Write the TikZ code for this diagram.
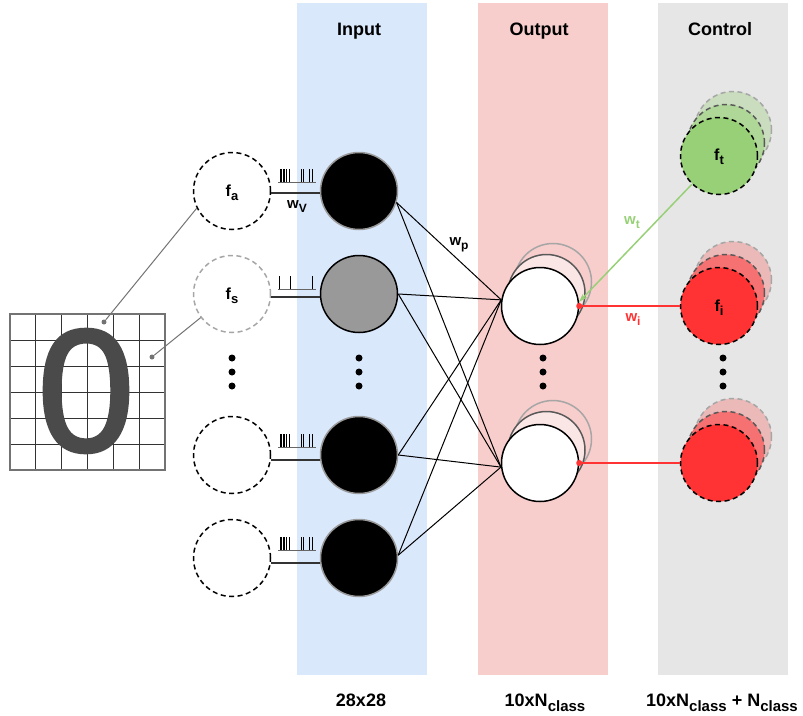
\documentclass[tikz,border=0pt]{standalone}
\usepackage{fontspec}
\setmainfont{Liberation Sans}
\newfontfamily\digitfont[FakeBold=2]{Liberation Sans}
\usetikzlibrary{arrows.meta}

\definecolor{inputbg}{HTML}{DAE8FC}
\definecolor{outputbg}{HTML}{F8CECC}
\definecolor{controlbg}{HTML}{E6E6E6}
\definecolor{leafgreen}{HTML}{97D077}
\definecolor{signalred}{HTML}{FF3333}
\definecolor{digitgray}{HTML}{4A4A4A}

% lowered subscript in the running sans font
\newcommand\lowsub[2][13]{\raisebox{-0.28em}{\fontsize{#1}{#1}\selectfont #2}}
% spike raster: start x, baseline y, spike offsets
\newcommand\spiketrain[3]{%
  \draw[black!60, line width=1pt] (#1,#2) -- ({#1+38},#2);
  \foreach \s in {#3} \draw[spike] ({#1+\s},#2) -- ({#1+\s},{#2-13});
}

\tikzset{
  title/.style={font=\bfseries\fontsize{18}{20}\selectfont, inner sep=0, anchor=base},
  flabel/.style={font=\bfseries\fontsize{16}{18}\selectfont, inner sep=0, anchor=base},
  wlabel/.style={font=\bfseries\fontsize{15}{17}\selectfont, inner sep=0, anchor=base},
  disc/.style={circle, minimum size=77pt, inner sep=0, line width=1.5pt},
  dashdisc/.style={disc, dash pattern=on 5pt off 3.5pt},
  syn/.style={draw=black!80, line width=1.5pt},
  proj/.style={draw=black, line width=1pt},
  guide/.style={draw=black!55, line width=1pt},
  spike/.style={draw=black, line width=0.9pt},
  ellip/.style={circle, fill=black, inner sep=0, minimum size=7pt},
  pin/.style={circle, fill=black!55, inner sep=0, minimum size=5pt},
  gridline/.style={draw=black!80, line width=1pt},
  gridframe/.style={draw=black!55, line width=1.5pt},
}

\begin{document}
\begin{tikzpicture}[x=1pt,y=-1pt]
\useasboundingbox (0,0) rectangle (803,715);

% layer bands
\fill[inputbg] (297,3) rectangle (427,675);
\fill[outputbg] (478,3) rectangle (608,675);
\fill[controlbg] (658,3) rectangle (788,675);

\node[title] (tin) at (359,35) {Input};
\node[title] (tout) at (539,35) {Output};
\node[title] (tctl) at (720,35) {Control};

\node[title] (nin) at (361,706.5) {28x28};
\node[title] (nout) at (545,706.5) {10xN\lowsub[15]{class}};
\node[title, anchor=base west] (nctl) at (646,706.5) {10xN\lowsub[15]{class} + N\lowsub[15]{class}};

% pixel grid with the digit
\foreach \i in {1,...,5} {
  \draw[gridline] ({10+\i*25.833},314) -- ({10+\i*25.833},470);
  \draw[gridline] (10,{314+\i*26}) -- (165,{314+\i*26});
}
\draw[gridframe] (10,314) rectangle (165,470);
\node[text=digitgray, font=\digitfont\fontsize{174}{174}\selectfont, inner sep=0] (digit) at (86,391) {0};
\node[pin] (pa) at (104,322) {};
\node[pin] (pb) at (152,357) {};

% feature detectors
\node[dashdisc, draw=black] (fa) at (232,191) {};
\node[dashdisc, draw=black!35] (fs) at (232,294) {};
\node[dashdisc, draw=black] (f3) at (232,455) {};
\node[dashdisc, draw=black] (f4) at (232,558) {};
\node[flabel] (fal) at (232,196) {f\lowsub{a}};
\node[flabel] (fsl) at (232,299) {f\lowsub{s}};

\draw[guide] (pa) -- (fa.206);
\draw[guide] (pb) -- (fs.217);

% input neurons
\node[disc, fill=black, draw=black!40] (i1) at (359,191) {};
\node[disc, fill=black!40, draw=black] (i2) at (359,294) {};
\node[disc, fill=black, draw=black!40] (i3) at (359,455) {};
\node[disc, fill=black, draw=black!40] (i4) at (359,558) {};

\draw[syn] ([yshift=-2pt]fa.east) -- ([yshift=-2pt]i1.west);
\draw[syn] ([yshift=-3pt]fs.east) -- ([yshift=-3pt]i2.west);
\draw[syn] ([yshift=-5pt]f3.east) -- ([yshift=-5pt]i3.west);
\draw[syn] ([yshift=-5pt]f4.east) -- ([yshift=-5pt]i4.west);

\spiketrain{278}{182}{2,3.5,5,6.5,8.5,11.5,23,25.5,31,34}
\spiketrain{278}{289}{1.5,12,34.5}
\spiketrain{278}{447}{2,3.5,5,6.5,8.5,11.5,23,25.5,31,34}
\spiketrain{278}{550}{2,3.5,5,6.5,8.5,11.5,23,25.5,31,34}

\node[wlabel] (wv) at (297,208) {w\lowsub[12]{V}};

% ellipses
\foreach \x/\n in {232/a,359/b,543/c,723/d} {
  \node[ellip] (dot\n1) at (\x,358) {};
  \node[ellip] (dot\n2) at (\x,372) {};
  \node[ellip] (dot\n3) at (\x,386) {};
}

% output neurons (stacked copies behind)
\node[disc, draw=black!35] (o1c) at (553,282) {};
\node[disc, fill=white!50!outputbg, draw=black!65] (o1b) at (546.5,293) {};
\node[disc, fill=white, draw=black] (o1) at (540,306) {};
\node[disc, draw=black!35] (o2c) at (553,439) {};
\node[disc, fill=white!50!outputbg, draw=black!65] (o2b) at (546.5,450) {};
\node[disc, fill=white, draw=black] (o2) at (540,463) {};

% all-to-all projections
\foreach \src in {i1.343,i2.east,i3.east,i4.4} {
  \draw[proj] (\src) -- (o1.171);
  \draw[proj] (\src) -- (o2.186);
}
\node[wlabel] (wp) at (459,245) {w\lowsub[12]{p}};

% control neurons (stacked copies behind)
\node[dashdisc, fill=leafgreen!35!controlbg, draw=black!35] (c1c) at (733,130) {};
\node[dashdisc, fill=leafgreen!70!controlbg, draw=black!65] (c1b) at (726,143) {};
\node[dashdisc, fill=leafgreen, draw=black] (c1) at (719,156) {};
\node[flabel] (ftl) at (719,160) {f\lowsub{t}};

\node[dashdisc, fill=signalred!25!controlbg, draw=black!35] (c2c) at (733,280) {};
\node[dashdisc, fill=signalred!65!controlbg, draw=black!65] (c2b) at (726,293) {};
\node[dashdisc, fill=signalred, draw=black] (c2) at (719,306) {};
\node[flabel] (fil) at (719,311) {f\lowsub{i}};

\node[dashdisc, fill=signalred!25!controlbg, draw=black!35] (c3c) at (733,437) {};
\node[dashdisc, fill=signalred!65!controlbg, draw=black!65] (c3b) at (726,450) {};
\node[dashdisc, fill=signalred, draw=black] (c3) at (719,463) {};

% teaching and inhibitory connections
\draw[leafgreen, line width=1.5pt, -{Stealth[length=9pt,width=6pt]}] (c1) -- (o1.6);
\draw[signalred, line width=1.5pt, -{Circle[length=6pt]}, shorten >=-3pt] (c2) -- (o1.east);
\draw[signalred, line width=1.5pt, -{Circle[length=6pt]}, shorten >=-3pt] (c3) -- (o2.east);
\node[wlabel, text=leafgreen] (wt) at (632,224) {w\lowsub[12]{t}};
\node[wlabel, text=signalred] (wi) at (633,321) {w\lowsub[12]{i}};

\end{tikzpicture}
\end{document}
